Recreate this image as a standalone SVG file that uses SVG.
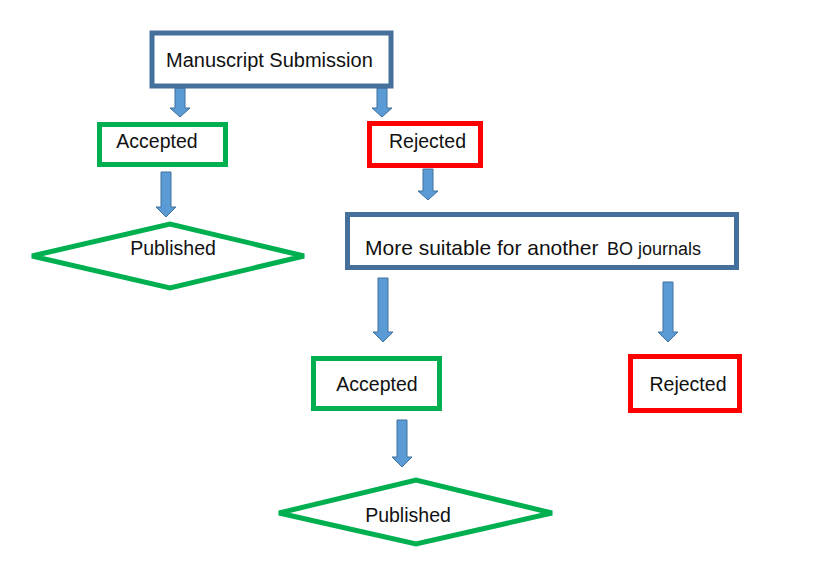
<svg xmlns="http://www.w3.org/2000/svg" width="813" height="584" viewBox="0 0 813 584">
<defs>
<style>
.blue{fill:#fff;stroke:#46709C;stroke-width:5}
.green{fill:#fff;stroke:#00B050;stroke-width:5}
.red{fill:#fff;stroke:#FF0000;stroke-width:5}
.t{font-family:"Liberation Sans",Arial,sans-serif;font-size:19.5px;fill:#111}
.arr{fill:#5B9BD5;stroke:#41719C;stroke-width:1}
</style>
</defs>
<rect width="813" height="584" fill="#fff"/>
<g id="connectors">
<path class="arr" d="M175,88 H185 V108 H190 L180,117 L170,108 H175 Z"/>
<path class="arr" d="M377,88 H387 V108 H392 L382,117 L372,108 H377 Z"/>
<path class="arr" d="M161,172 H171 V207 H176 L166,217 L156,207 H161 Z"/>
<path class="arr" d="M423,169 H433 V191 H438 L428,200 L418,191 H423 Z"/>
<path class="arr" d="M378,278 H388 V332 H393 L383,342 L373,332 H378 Z"/>
<path class="arr" d="M663,282 H673 V332 H678 L668,342 L658,332 H663 Z"/>
<path class="arr" d="M397,420 H407 V457 H412 L402,467 L392,457 H397 Z"/>
</g>
<g id="submission">
<rect class="blue" x="152" y="33" width="239" height="53"/>
<text class="t" x="166" y="67" style="font-size:20px">Manuscript Submission</text>
</g>
<g id="accepted1">
<rect class="green" x="99.5" y="124.5" width="126" height="40"/>
<text class="t" x="157" y="148" text-anchor="middle">Accepted</text>
</g>
<g id="rejected1">
<rect class="red" x="369.5" y="123.5" width="111" height="42"/>
<text class="t" x="427.5" y="148" text-anchor="middle">Rejected</text>
</g>
<g id="published1">
<polygon class="green" points="32,256 170,224 304,256 170,288"/>
<text class="t" x="173" y="255" text-anchor="middle">Published</text>
</g>
<g id="another">
<rect class="blue" x="347.5" y="214.5" width="389" height="53"/>
<text class="t" x="365" y="255" style="font-size:21px">More suitable for another<tspan x="607" style="font-size:18px">BO journals</tspan></text>
</g>
<g id="accepted2">
<rect class="green" x="313.5" y="358.5" width="126" height="50"/>
<text class="t" x="377" y="391" text-anchor="middle">Accepted</text>
</g>
<g id="rejected2">
<rect class="red" x="630.5" y="356.5" width="109" height="54"/>
<text class="t" x="688" y="391" text-anchor="middle">Rejected</text>
</g>
<g id="published2">
<polygon class="green" points="279,513 416,480 552,513 416,544"/>
<text class="t" x="408" y="522" text-anchor="middle">Published</text>
</g>
</svg>
